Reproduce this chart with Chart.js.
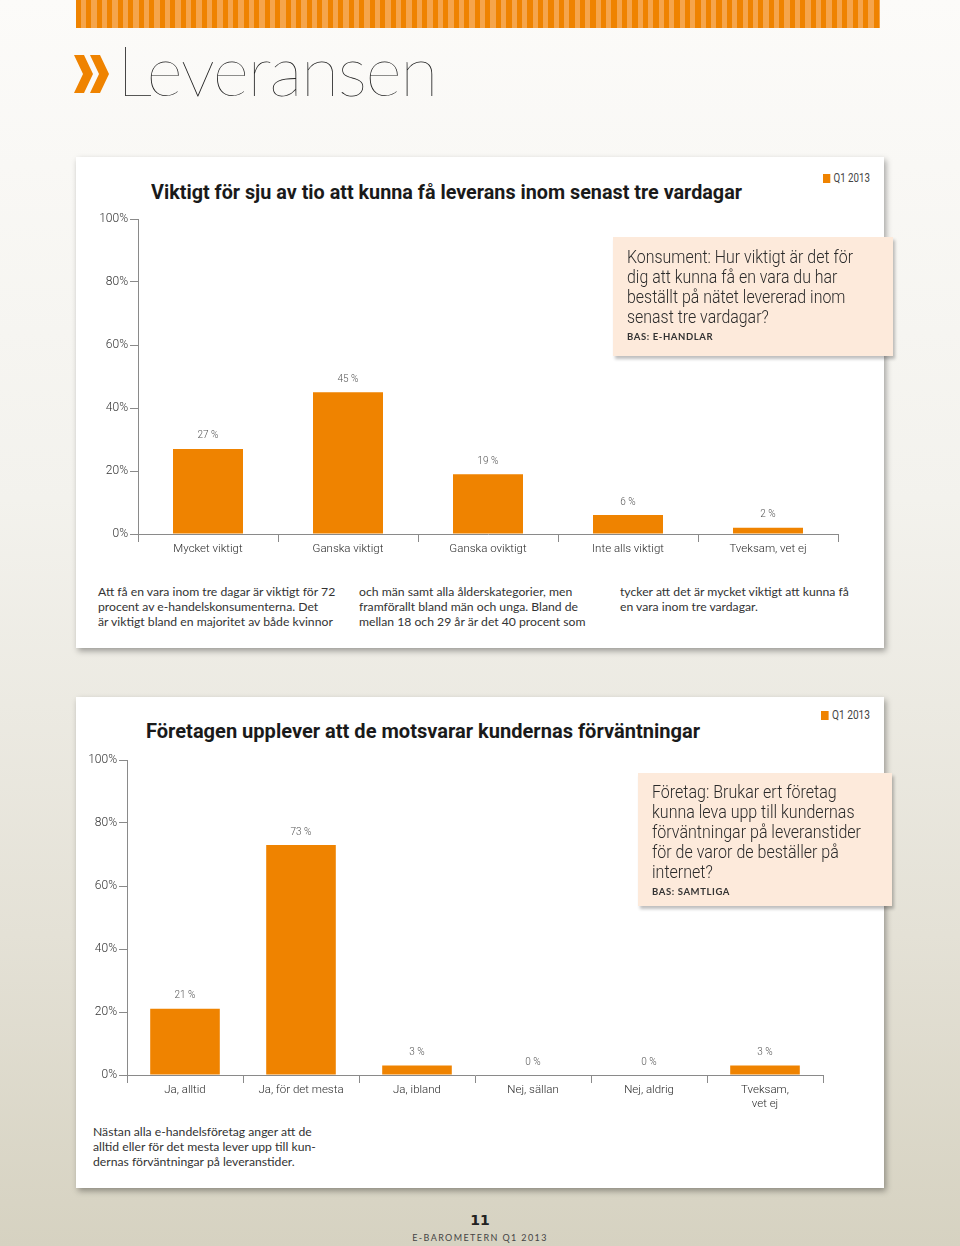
<!DOCTYPE html>
<html lang="sv">
<head>
<meta charset="utf-8">
<title>Leveransen</title>
<script src="https://cdn.jsdelivr.net/npm/chart.js@4/dist/chart.umd.min.js"></script>
<style>
    html, body { margin: 0; padding: 0; }
    body {
        width: 960px; height: 1246px; position: relative; overflow: hidden;
        background: linear-gradient(180deg, #fcfbf9 0%, #f3f2ed 40%, #e4e1d6 75%, #d6d2c1 100%);
        font-family: Lato, "Open Sans", sans-serif;
    }
    .stripe {
        position: absolute; left: 76px; top: 0; width: 804px; height: 28px;
        background: repeating-linear-gradient(90deg, #ef8300 0 5px, #f5a54c 5px 10.5px);
    }
    .head { position: absolute; left: 73px; top: 34px; height: 80px; }
    .head svg { position: absolute; left: 0; top: 21px; }
    .head span {
        position: absolute; left: 44px; top: -7px; font-family: Lato, sans-serif; font-weight: 100;
        font-size: 70px; color: #222; white-space: nowrap; letter-spacing: -1.4px;
    }
    .card {
        position: absolute; left: 76px; width: 808px; background: #fff;
        box-shadow: 2px 3px 6px rgba(0,0,0,0.35);
    }
    .fit { display: inline-block; transform-origin: left top; white-space: nowrap; }
    .title {
        position: absolute; font-family: Roboto, sans-serif; font-weight: bold; font-size: 21px; color: #1a1a1a;
    }
    .legend { position: absolute; font-family: Roboto, sans-serif; font-size: 12px; color: #444; }
    .legend i { display: inline-block; width: 9px; height: 9px; background: #ef8300; margin-right: 4px; vertical-align: -1px; }
    .qbox {
        position: absolute; background: #fdeadb; box-shadow: 2px 3px 3px rgba(0,0,0,0.25);
        color: #2a2a2a;
    }
    .qbox .q { font-family: Roboto, sans-serif; font-weight: 300; font-size: 18px; line-height: 20px; }
    .qbox .bas { font-family: Lato, sans-serif; font-size: 9.5px; font-weight: bold; letter-spacing: 0.6px; line-height: 14px; margin-top: 3px; color: #333; }
    .text { position: absolute; font-size: 12.2px; line-height: 15px; color: #333; white-space: nowrap; }
    canvas { position: absolute; }
    .foot { position: absolute; left: 0; width: 960px; text-align: center; color: #222; }
</style>
</head>
<body>
<div class="stripe"></div>
<div class="head">
    <svg width="40" height="38" viewBox="0 0 40 38">
        <polygon points="1,0 11,0 20,19 11,38 1,38 10,19" fill="#ef8300"/>
        <polygon points="17,0 27,0 36,19 27,38 17,38 26,19" fill="#ef8300"/>
    </svg>
    <span>Leveransen</span>
</div>

<div class="card" style="top:157px; height:491px;"></div>
<div class="title" style="left:151px; top:180px;"><span class="fit" data-w="591">Viktigt för sju av tio att kunna få leverans inom senast tre vardagar</span></div>
<div class="legend" style="left:823px; top:171px;"><span class="fit" data-w="47"><i></i>Q1 2013</span></div>
<canvas id="chart1" width="808" height="360" style="left:76px; top:205px; width:808px; height:360px;"></canvas>
<div class="qbox" style="left:613px; top:237px; width:266px; height:109px; padding:10px 0 0 14px;">
    <div class="q"><span class="fit" data-w="226">Konsument: Hur viktigt är det för<br>dig att kunna få en vara du har<br>beställt på nätet levererad inom<br>senast tre vardagar?</span></div>
    <div class="bas">BAS: E-HANDLAR</div>
</div>
<div class="text" style="left:98px; top:584px;">Att få en vara inom tre dagar är viktigt för 72<br>procent av e-handelskonsumenterna. Det<br>är viktigt bland en majoritet av både kvinnor</div>
<div class="text" style="left:359px; top:584px;">och män samt alla ålderskategorier, men<br>framförallt bland män och unga. Bland de<br>mellan 18 och 29 år är det 40 procent som</div>
<div class="text" style="left:620px; top:584px;">tycker att det är mycket viktigt att kunna få<br>en vara inom tre vardagar.</div>

<div class="card" style="top:697px; height:491px;"></div>
<div class="title" style="left:146px; top:719px;"><span class="fit" data-w="554">Företagen upplever att de motsvarar kundernas förväntningar</span></div>
<div class="legend" style="left:821px; top:708px;"><span class="fit" data-w="49"><i></i>Q1 2013</span></div>
<canvas id="chart2" width="808" height="375" style="left:76px; top:745px; width:808px; height:375px;"></canvas>
<div class="qbox" style="left:638px; top:773px; width:240px; height:124px; padding:9px 0 0 14px;">
    <div class="q"><span class="fit" data-w="209">Företag: Brukar ert företag<br>kunna leva upp till kundernas<br>förväntningar på leveranstider<br>för de varor de beställer på<br>internet?</span></div>
    <div class="bas">BAS: SAMTLIGA</div>
</div>
<div class="text" style="left:93px; top:1124px;">Nästan alla e-handelsföretag anger att de<br>alltid eller för det mesta lever upp till kun-<br>dernas förväntningar på leveranstider.</div>

<div class="foot" style="top:1212px; font-family:'DejaVu Sans', sans-serif; font-weight:bold; font-size:14px;">11</div>
<div class="foot" style="top:1232px; font-family:Lato, sans-serif; font-size:9px; letter-spacing:1.4px; color:#444;">E-BAROMETERN Q1 2013</div>

<script>
// Konsumenter: hur viktigt är leverans inom tre vardagar
const konsumentKategorier = ['Mycket viktigt', 'Ganska viktigt', 'Ganska oviktigt', 'Inte alls viktigt', 'Tveksam, vet ej'];
const konsumentVarden = [27, 45, 19, 6, 2];

// Företag: lever upp till kundernas förväntningar
const foretagKategorier = ['Ja, alltid', 'Ja, för det mesta', 'Ja, ibland', 'Nej, sällan', 'Nej, aldrig', ['Tveksam,', 'vet ej']];
const foretagVarden = [21, 73, 3, 0, 0, 3];

const yTicks = [0, 20, 40, 60, 80, 100];

const orange = '#ef8300';
const axisColor = '#8a8a8a';
const chartFont = 'Roboto, sans-serif';

// smalna av rubriker så att de får samma bredd som i originalet
document.querySelectorAll('.fit').forEach(el => {
    const target = +el.dataset.w;
    const w = el.getBoundingClientRect().width;
    if (w > 0) el.style.transform = `scaleX(${target / w})`;
});

// Etiketter ovanför staplarna
const valueLabels = {
    id: 'valueLabels',
    afterDatasetsDraw(chart) {
        const ctx = chart.ctx;
        const meta = chart.getDatasetMeta(0);
        ctx.save();
        ctx.font = '300 10px ' + chartFont;
        ctx.fillStyle = '#555';
        ctx.textAlign = 'center';
        ctx.textBaseline = 'middle';
        meta.data.forEach((bar, i) => {
            const v = chart.data.datasets[0].data[i];
            ctx.fillText(v + ' %', bar.x, bar.y - 13);
        });
        ctx.restore();
    }
};

function makeChart(id, labels, values, opts) {
    const ctx = document.getElementById(id).getContext('2d');
    return new Chart(ctx, {
        type: 'bar',
        data: {
            labels: labels,
            datasets: [{
                data: values,
                backgroundColor: orange,
                borderWidth: 0,
                barPercentage: 1,
                categoryPercentage: opts.barShare
            }]
        },
        options: {
            responsive: false,
            animation: false,
            devicePixelRatio: 1,
            layout: { padding: { left: 0, top: opts.padTop, right: opts.padRight, bottom: 1 } },
            plugins: { legend: { display: false }, tooltip: { enabled: false } },
            scales: {
                x: {
                    grid: { display: true, drawOnChartArea: false, drawTicks: true, tickLength: 8, color: axisColor, offset: true },
                    border: { display: true, color: axisColor, width: 1 },
                    ticks: { color: '#2a2a2a', font: { family: chartFont, size: 11.5, weight: 300 }, padding: 0, maxRotation: 0, autoSkip: false },
                    afterFit(scale) { scale.height = opts.xHeight; }
                },
                y: {
                    min: 0,
                    max: 100,
                    afterBuildTicks(scale) { scale.ticks = yTicks.map(v => ({ value: v })); },
                    grid: { display: true, drawOnChartArea: false, drawTicks: true, tickLength: 8, color: axisColor },
                    border: { display: true, color: axisColor, width: 1 },
                    ticks: { color: '#333', font: { family: chartFont, size: 12, weight: 300 }, padding: 2, callback: v => v + '%' },
                    afterFit(scale) { scale.width = opts.yWidth; }
                }
            }
        },
        plugins: [valueLabels]
    });
}

makeChart('chart1', konsumentKategorier, konsumentVarden, { barShare: 0.5, padTop: 14, padRight: 46, xHeight: 30, yWidth: 62 });
makeChart('chart2', foretagKategorier, foretagVarden, { barShare: 0.6, padTop: 15, padRight: 61, xHeight: 44, yWidth: 51 });
</script>
</body>
</html>
